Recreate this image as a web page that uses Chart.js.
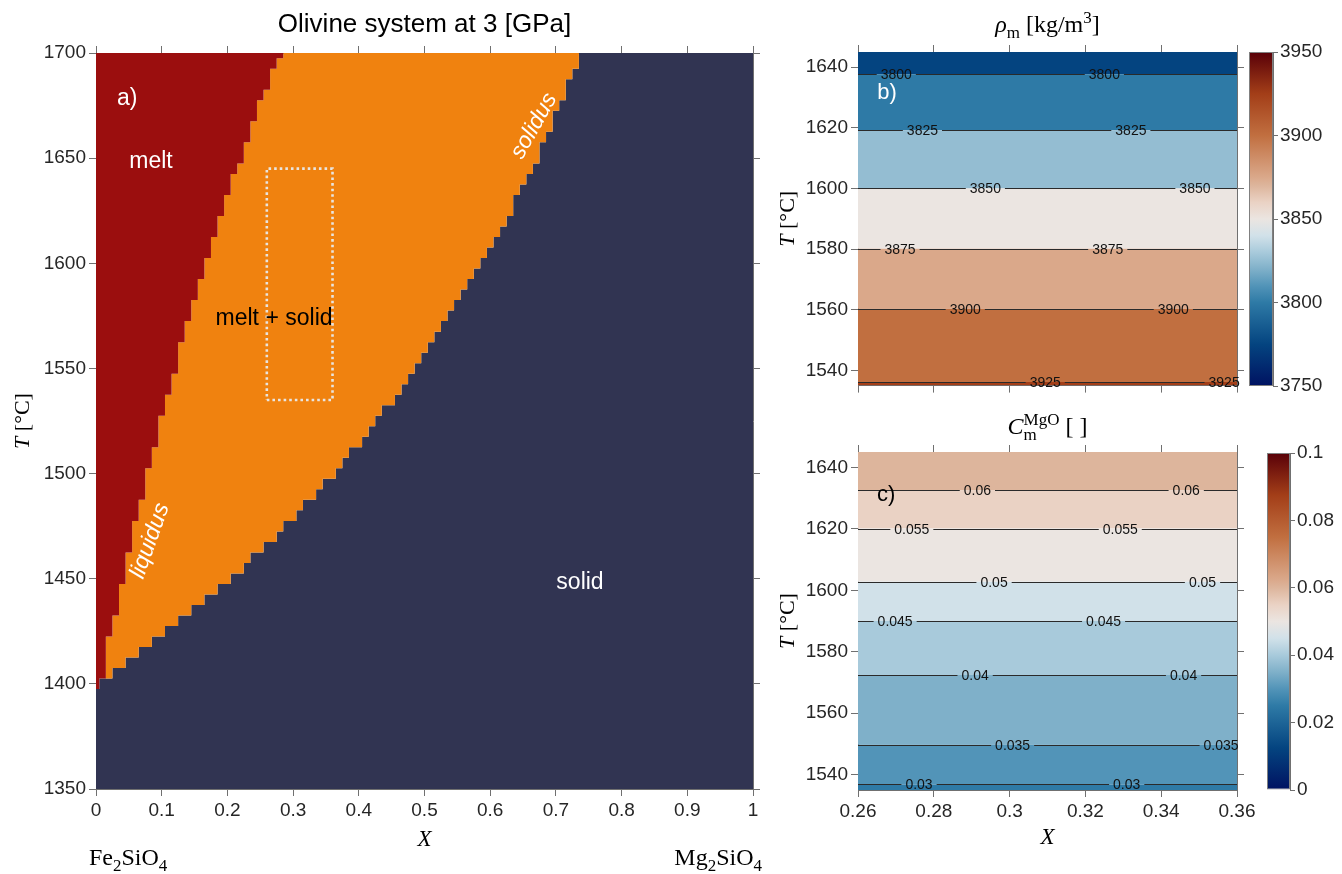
<!DOCTYPE html>
<html>
<head>
<meta charset="utf-8">
<title>Olivine system at 3 GPa</title>
<script src="https://cdn.jsdelivr.net/npm/chart.js@4.4.1/dist/chart.umd.min.js"></script>
<style>
  html, body { margin: 0; padding: 0; background: #ffffff; width: 1342px; height: 874px; overflow: hidden; }
  canvas { position: absolute; display: block; }
</style>
</head>
<body>
<canvas id="phase"  width="770" height="874" style="left:0;top:0;"></canvas>
<canvas id="rho"    width="500" height="400" style="left:770px;top:0;"></canvas>
<canvas id="mgo"    width="500" height="474" style="left:770px;top:400px;"></canvas>
<canvas id="rhoBar" width="96"  height="400" style="left:1246px;top:0;"></canvas>
<canvas id="mgoBar" width="96"  height="474" style="left:1246px;top:400px;"></canvas>
<script>
// ---------------------------------------------------------------
// Phase diagram grid: composition columns X = 0.00 ... 1.00, T step 5 °C
// ---------------------------------------------------------------
const X_STEP = 0.01;
const T_STEP = 5;
const xColumns = Array.from({ length: 101 }, (_, i) => +(i * X_STEP).toFixed(2));
const T_RANGE = [1350, 1700];

// lowest fully molten grid temperature for X = 0.00, 0.01, ... (above 1700 beyond the list)
const liquidusT = [
  1400, 1405, 1425, 1435, 1450, 1465, 1480, 1490, 1505, 1515,
  1530, 1540, 1550, 1565, 1575, 1585, 1595, 1605, 1615, 1625,
  1635, 1645, 1650, 1660, 1670, 1680, 1685, 1695, 1700
];

// highest fully solid grid temperature for X = 0.00, 0.01, ... (solid to 1700 beyond the list)
const solidusT = [
  1395, 1400, 1400, 1405, 1405, 1410, 1410, 1415, 1415, 1420,
  1420, 1425, 1425, 1430, 1430, 1435, 1435, 1440, 1440, 1445,
  1445, 1450, 1450, 1455, 1460, 1460, 1465, 1465, 1470, 1475,
  1475, 1480, 1485, 1485, 1490, 1495, 1495, 1500, 1505, 1510,
  1510, 1515, 1520, 1525, 1530, 1530, 1535, 1540, 1545, 1550,
  1555, 1560, 1565, 1570, 1575, 1580, 1585, 1590, 1595, 1600,
  1605, 1610, 1615, 1620, 1630, 1635, 1640, 1645, 1655, 1660,
  1670, 1675, 1685, 1690
];

// sub-window shown in panels b) and c)
const windowX = [0.26, 0.36];
const windowT = [1535, 1645];

// melt density contours (kg/m^3) and the temperature of each contour
const rhoLevels = [3800, 3825, 3850, 3875, 3900, 3925];
const rhoLevelT = [1637.7, 1619.2, 1600.0, 1580.1, 1560.3, 1536.2];
const rhoLabelX = [[0.2701, 0.3250], [0.2770, 0.3320], [0.2936, 0.3489],
                   [0.2711, 0.3259], [0.2883, 0.3432], [0.3094, 0.3566]];
const rhoRange = [3750, 3950];

// MgO content of the melt
const cLevels = [0.03, 0.035, 0.04, 0.045, 0.05, 0.055, 0.06];
const cLevelT = [1536.8, 1549.8, 1572.4, 1590.0, 1602.8, 1620.1, 1632.5];
const cLabelX = [[0.2761, 0.3309], [0.3008, 0.3558], [0.2909, 0.3459], [0.2698, 0.3248],
                 [0.2959, 0.3509], [0.2742, 0.3292], [0.2915, 0.3466]];
const cRange = [0, 0.1];

// ---------------------------------------------------------------
// Styles
// ---------------------------------------------------------------
const SANS = '"Liberation Sans", Arial, Helvetica, sans-serif';
const SERIF = '"Liberation Serif", "Times New Roman", serif';
const AX = '#707070';
const TICK_TXT = '#262626';
const MELT = '#9b0e0e';
const MUSH = '#f0820f';
const SOLID = '#313452';

// diverging blue–beige–brown colormap
const CMAP = [
  [0.000,   0,  18,  97],
  [0.125,   4,  68, 128],
  [0.250,  46, 122, 166],
  [0.300,  82, 148, 184],
  [0.350, 127, 176, 201],
  [0.400, 168, 202, 219],
  [0.450, 209, 225, 233],
  [0.500, 235, 229, 225],
  [0.550, 234, 210, 196],
  [0.600, 221, 181, 156],
  [0.625, 218, 168, 138],
  [0.750, 193, 111,  64],
  [0.875, 163,  62,  24],
  [1.000,  89,   0,   8]
];
function cmap(t) {
  t = Math.max(0, Math.min(1, t));
  for (let i = 1; i < CMAP.length; i++) {
    if (t <= CMAP[i][0]) {
      const a = CMAP[i - 1], b = CMAP[i];
      const f = (t - a[0]) / (b[0] - a[0]);
      const c = [1, 2, 3].map(k => Math.round(a[k] + f * (b[k] - a[k])));
      return `rgb(${c[0]},${c[1]},${c[2]})`;
    }
  }
  const l = CMAP[CMAP.length - 1];
  return `rgb(${l[1]},${l[2]},${l[3]})`;
}

Chart.defaults.font.family = SANS;
Chart.defaults.color = TICK_TXT;

function fmt(v) { return String(parseFloat(Number(v).toFixed(4))); }

function linAxis(position, min, max, step, size, showLabels, tickLen, pad) {
  return {
    type: 'linear', position, min, max, display: true,
    ticks: {
      stepSize: step, display: showLabels, includeBounds: false, autoSkip: false,
      maxRotation: 0, minRotation: 0, padding: pad === undefined ? 3 : pad,
      color: TICK_TXT, font: { family: SANS, size: 19 }, callback: v => fmt(v)
    },
    grid: {
      display: true, drawOnChartArea: false, drawTicks: true, tickLength: tickLen || 7,
      color: AX, tickColor: AX, lineWidth: 1, tickWidth: 1
    },
    border: { display: true, color: AX, width: 1 },
    afterFit: s => { if (s.isHorizontal()) s.height = size; else s.width = size; }
  };
}

// text with italic parts, subscripts and superscripts
function drawRich(ctx, runs, x, y, size, align, angle, color) {
  const fontOf = (it, s) => `${it ? 'italic ' : ''}${s}px ${SERIF}`;
  ctx.save();
  ctx.translate(x, y);
  if (angle) ctx.rotate(angle);
  const small = Math.round(size * 0.7);
  const items = runs.map(r => {
    if (r.sup !== undefined || r.sub !== undefined) {
      ctx.font = fontOf(false, small);
      const w = Math.max(r.sup ? ctx.measureText(r.sup).width : 0, r.sub ? ctx.measureText(r.sub).width : 0);
      return { r, w };
    }
    ctx.font = fontOf(r.it, size);
    return { r, w: ctx.measureText(r.t).width };
  });
  const total = items.reduce((s, it) => s + it.w, 0);
  let cx = align === 'left' ? 0 : align === 'right' ? -total : -total / 2;
  ctx.fillStyle = color || '#000';
  ctx.textAlign = 'left';
  ctx.textBaseline = 'alphabetic';
  items.forEach(({ r, w }) => {
    if (r.sup !== undefined || r.sub !== undefined) {
      ctx.font = fontOf(false, small);
      if (r.sup) ctx.fillText(r.sup, cx, -size * 0.36);
      if (r.sub) ctx.fillText(r.sub, cx, size * 0.24);
    } else {
      ctx.font = fontOf(r.it, size);
      ctx.fillText(r.t, cx, 0);
    }
    cx += w;
  });
  ctx.restore();
}

// plain labels placed in data coordinates
function drawDataText(chart, items) {
  const { ctx, scales: { x, y } } = chart;
  items.forEach(it => {
    ctx.save();
    ctx.translate(x.getPixelForValue(it.x), y.getPixelForValue(it.t));
    if (it.angle) ctx.rotate(it.angle * Math.PI / 180);
    ctx.font = `${it.italic ? 'italic ' : ''}${it.size || 22}px ${SANS}`;
    ctx.fillStyle = it.color;
    ctx.textAlign = it.align || 'center';
    ctx.textBaseline = it.baseline || 'alphabetic';
    ctx.fillText(it.text, 0, 0);
    ctx.restore();
  });
}

// labelled contour lines with gaps around their labels
function drawContours(chart, levels, levelT, labelX) {
  const { ctx, chartArea: a, scales: { x, y } } = chart;
  ctx.save();
  ctx.font = `14px ${SANS}`;
  levels.forEach((lv, k) => {
    const py = Math.round(y.getPixelForValue(levelT[k])) + 0.5;
    const txt = String(lv);
    const w = ctx.measureText(txt).width + 8;
    const centers = labelX[k].map(v => x.getPixelForValue(v)).sort((p, q) => p - q);
    ctx.strokeStyle = '#2a2a2a';
    ctx.lineWidth = 1;
    ctx.beginPath();
    let start = a.left;
    centers.forEach(cx => {
      const g0 = cx - w / 2;
      if (g0 > start) { ctx.moveTo(start, py); ctx.lineTo(g0, py); }
      start = cx + w / 2;
    });
    if (start < a.right) { ctx.moveTo(start, py); ctx.lineTo(a.right, py); }
    ctx.stroke();
    ctx.fillStyle = '#111';
    ctx.textAlign = 'center';
    ctx.textBaseline = 'middle';
    centers.forEach(cx => ctx.fillText(txt, cx, py + 1));
  });
  ctx.restore();
}

// ---------------------------------------------------------------
// Panel a) phase diagram
// ---------------------------------------------------------------
function boundaryEdges(cellT, side) {
  // side +1: upper edge of the listed cell, -1: lower edge
  const above = T_RANGE[1] + T_STEP / 2;
  const pts = xColumns.map((x, i) => ({
    x: x - X_STEP / 2,
    y: i < cellT.length ? cellT[i] + side * T_STEP / 2 : above
  }));
  pts.push({ x: xColumns[xColumns.length - 1] + X_STEP / 2, y: pts[pts.length - 1].y });
  return pts;
}
const liqEdge = boundaryEdges(liquidusT, -1);
const solEdge = boundaryEdges(solidusT, +1);
const boxPts = [
  { x: windowX[0], y: windowT[0] }, { x: windowX[1], y: windowT[0] },
  { x: windowX[1], y: windowT[1] }, { x: windowX[0], y: windowT[1] },
  { x: windowX[0], y: windowT[0] }
];

const phaseText = [
  { text: 'a)', x: 0.032, t: 1675.3, color: '#ffffff', align: 'left', size: 23 },
  { text: 'melt', x: 0.0837, t: 1645.2, color: '#ffffff', size: 23 },
  { text: 'melt + solid', x: 0.271, t: 1570.7, color: '#000000', size: 23 },
  { text: 'liquidus', x: 0.0822, t: 1468, color: '#ffffff', italic: true, angle: -70.4, baseline: 'middle', size: 23 },
  { text: 'solidus', x: 0.6667, t: 1665.3, color: '#ffffff', italic: true, angle: -60.4, baseline: 'middle', size: 23 },
  { text: 'solid', x: 0.7367, t: 1445.1, color: '#ffffff', size: 23 }
];

const phasePlugin = {
  id: 'phaseText',
  afterDraw(chart) {
    const { ctx, chartArea: a } = chart;
    drawDataText(chart, phaseText);
    ctx.save();
    ctx.font = `26px ${SANS}`;
    ctx.fillStyle = '#000';
    ctx.textAlign = 'center';
    ctx.textBaseline = 'alphabetic';
    ctx.fillText('Olivine system at 3 [GPa]', (a.left + a.right) / 2, 32);
    ctx.restore();
    drawRich(ctx, [{ t: 'T', it: true }, { t: ' [°C]' }], 29, (a.top + a.bottom) / 2, 22, 'center', -Math.PI / 2);
    drawRich(ctx, [{ t: 'X', it: true }], (a.left + a.right) / 2, 846, 23, 'center');
    drawRich(ctx, [{ t: 'Fe' }, { sub: '2' }, { t: 'SiO' }, { sub: '4' }], 89, 865, 24, 'left');
    drawRich(ctx, [{ t: 'Mg' }, { sub: '2' }, { t: 'SiO' }, { sub: '4' }], 762, 865, 24, 'right');
  }
};

const lineBase = { borderWidth: 0, pointRadius: 0, stepped: 'before', tension: 0, xAxisID: 'x', yAxisID: 'y', order: 1 };

new Chart(document.getElementById('phase'), {
  type: 'line',
  data: {
    datasets: [
      { label: 'zoom window', data: boxPts, borderColor: '#e8e5e1', borderWidth: 2.6, borderDash: [2.6, 3],
        borderCapStyle: 'butt', pointRadius: 0, fill: false, tension: 0, xAxisID: 'x', yAxisID: 'y', order: 0 },
      Object.assign({ label: 'melt', data: liqEdge.map(p => ({ ...p })), fill: 'end', backgroundColor: MELT }, lineBase),
      Object.assign({ label: 'melt + solid', data: liqEdge.map(p => ({ ...p })), fill: 3, backgroundColor: MUSH }, lineBase),
      Object.assign({ label: 'solid', data: solEdge.map(p => ({ ...p })), fill: 'start', backgroundColor: SOLID }, lineBase)
    ]
  },
  options: {
    responsive: false, animation: false, events: [],
    layout: { padding: 0 },
    plugins: { legend: { display: false }, tooltip: { enabled: false } },
    scales: {
      x:  linAxis('bottom', 0, 1, 0.1, 85, true),
      x2: linAxis('top', 0, 1, 0.1, 53, false),
      y:  linAxis('left', T_RANGE[0], T_RANGE[1], 50, 96, true),
      y2: linAxis('right', T_RANGE[0], T_RANGE[1], 50, 17, false)
    }
  },
  plugins: [phasePlugin]
});

// ---------------------------------------------------------------
// Panels b) and c): filled contour bands inside the zoom window
// ---------------------------------------------------------------
function bandDatasets(levels, levelT, range) {
  const step = levels[1] - levels[0];
  const pairs = levels.map((l, i) => ({ l, t: levelT[i] })).sort((p, q) => p.t - q.t);
  const n = pairs.length;
  const edges = [windowT[0], ...pairs.map(p => p.t), windowT[1]];
  const bandLevel = j => {
    if (j === 0) return pairs[1].l < pairs[0].l ? pairs[0].l : pairs[0].l - step;
    if (j === n) return pairs[n - 2].l < pairs[n - 1].l ? pairs[n - 1].l : pairs[n - 1].l - step;
    return Math.min(pairs[j - 1].l, pairs[j].l);
  };
  return edges.map((t, j) => ({
    data: [{ x: windowX[0], y: t }, { x: windowX[1], y: t }],
    borderWidth: 0, pointRadius: 0, tension: 0,
    fill: j === 0 ? false : '-1',
    backgroundColor: j === 0 ? 'transparent' : cmap((bandLevel(j - 1) - range[0]) / (range[1] - range[0]))
  }));
}

function zoomChart(id, levels, levelT, labelX, range, showX, sizes, decorate) {
  return new Chart(document.getElementById(id), {
    type: 'line',
    data: { datasets: bandDatasets(levels, levelT, range) },
    options: {
      responsive: false, animation: false, events: [],
      layout: { padding: 0 },
      plugins: { legend: { display: false }, tooltip: { enabled: false } },
      scales: {
        x:  linAxis('bottom', windowX[0], windowX[1], 0.02, sizes.bottom, showX),
        x2: linAxis('top', windowX[0], windowX[1], 0.02, sizes.top, false),
        y:  linAxis('left', windowT[0], windowT[1], 20, 88, true),
        y2: linAxis('right', windowT[0], windowT[1], 20, 33, false)
      }
    },
    plugins: [{
      id: 'contours',
      afterDatasetsDraw(chart) { drawContours(chart, levels, levelT, labelX); },
      afterDraw(chart) { decorate(chart); }
    }]
  });
}

zoomChart('rho', rhoLevels, rhoLevelT, rhoLabelX, rhoRange, false, { bottom: 14, top: 52 }, chart => {
  const { ctx, chartArea: a } = chart;
  drawDataText(chart, [{ text: 'b)', x: 0.2651, t: 1629.4, color: '#ffffff', align: 'left' }]);
  drawRich(ctx, [{ t: 'ρ', it: true }, { sub: 'm' }, { t: ' [kg/m' }, { sup: '3' }, { t: ']' }],
    (a.left + a.right) / 2, 32, 24, 'center');
  drawRich(ctx, [{ t: 'T', it: true }, { t: ' [°C]' }], 24, (a.top + a.bottom) / 2, 22, 'center', -Math.PI / 2);
});

zoomChart('mgo', cLevels, cLevelT, cLabelX, cRange, true, { bottom: 84, top: 52 }, chart => {
  const { ctx, chartArea: a } = chart;
  drawDataText(chart, [{ text: 'c)', x: 0.265, t: 1629.0, color: '#000000', align: 'left' }]);
  drawRich(ctx, [{ t: 'C', it: true }, { sup: 'MgO', sub: 'm' }, { t: ' [ ]' }],
    (a.left + a.right) / 2, 34, 24, 'center');
  drawRich(ctx, [{ t: 'T', it: true }, { t: ' [°C]' }], 24, (a.top + a.bottom) / 2, 22, 'center', -Math.PI / 2);
  drawRich(ctx, [{ t: 'X', it: true }], (a.left + a.right) / 2, 444, 23, 'center');
});

// ---------------------------------------------------------------
// Colorbars
// ---------------------------------------------------------------
function colorbar(id, range, step, padding, axisWidth) {
  return new Chart(document.getElementById(id), {
    type: 'bar',
    data: {
      labels: [''],
      datasets: [{
        data: [[range[0], range[1]]],
        backgroundColor: c => {
          const a = c.chart.chartArea;
          if (!a) return 'transparent';
          const g = c.chart.ctx.createLinearGradient(0, a.bottom, 0, a.top);
          CMAP.forEach(s => g.addColorStop(s[0], `rgb(${s[1]},${s[2]},${s[3]})`));
          return g;
        },
        borderColor: '#808080', borderWidth: 1, borderSkipped: false,
        barPercentage: 1, categoryPercentage: 1, inflateAmount: 0
      }]
    },
    options: {
      responsive: false, animation: false, events: [],
      layout: { padding },
      plugins: { legend: { display: false }, tooltip: { enabled: false } },
      scales: {
        x: { display: false },
        y: linAxis('right', range[0], range[1], step, axisWidth, true, 5, 2)
      }
    }
  });
}
colorbar('rhoBar', rhoRange, 50, { left: 3, top: 52, bottom: 14, right: 0 }, 69);
colorbar('mgoBar', cRange, 0.02, { left: 21, top: 53, bottom: 84, right: 0 }, 52);
</script>
</body>
</html>
